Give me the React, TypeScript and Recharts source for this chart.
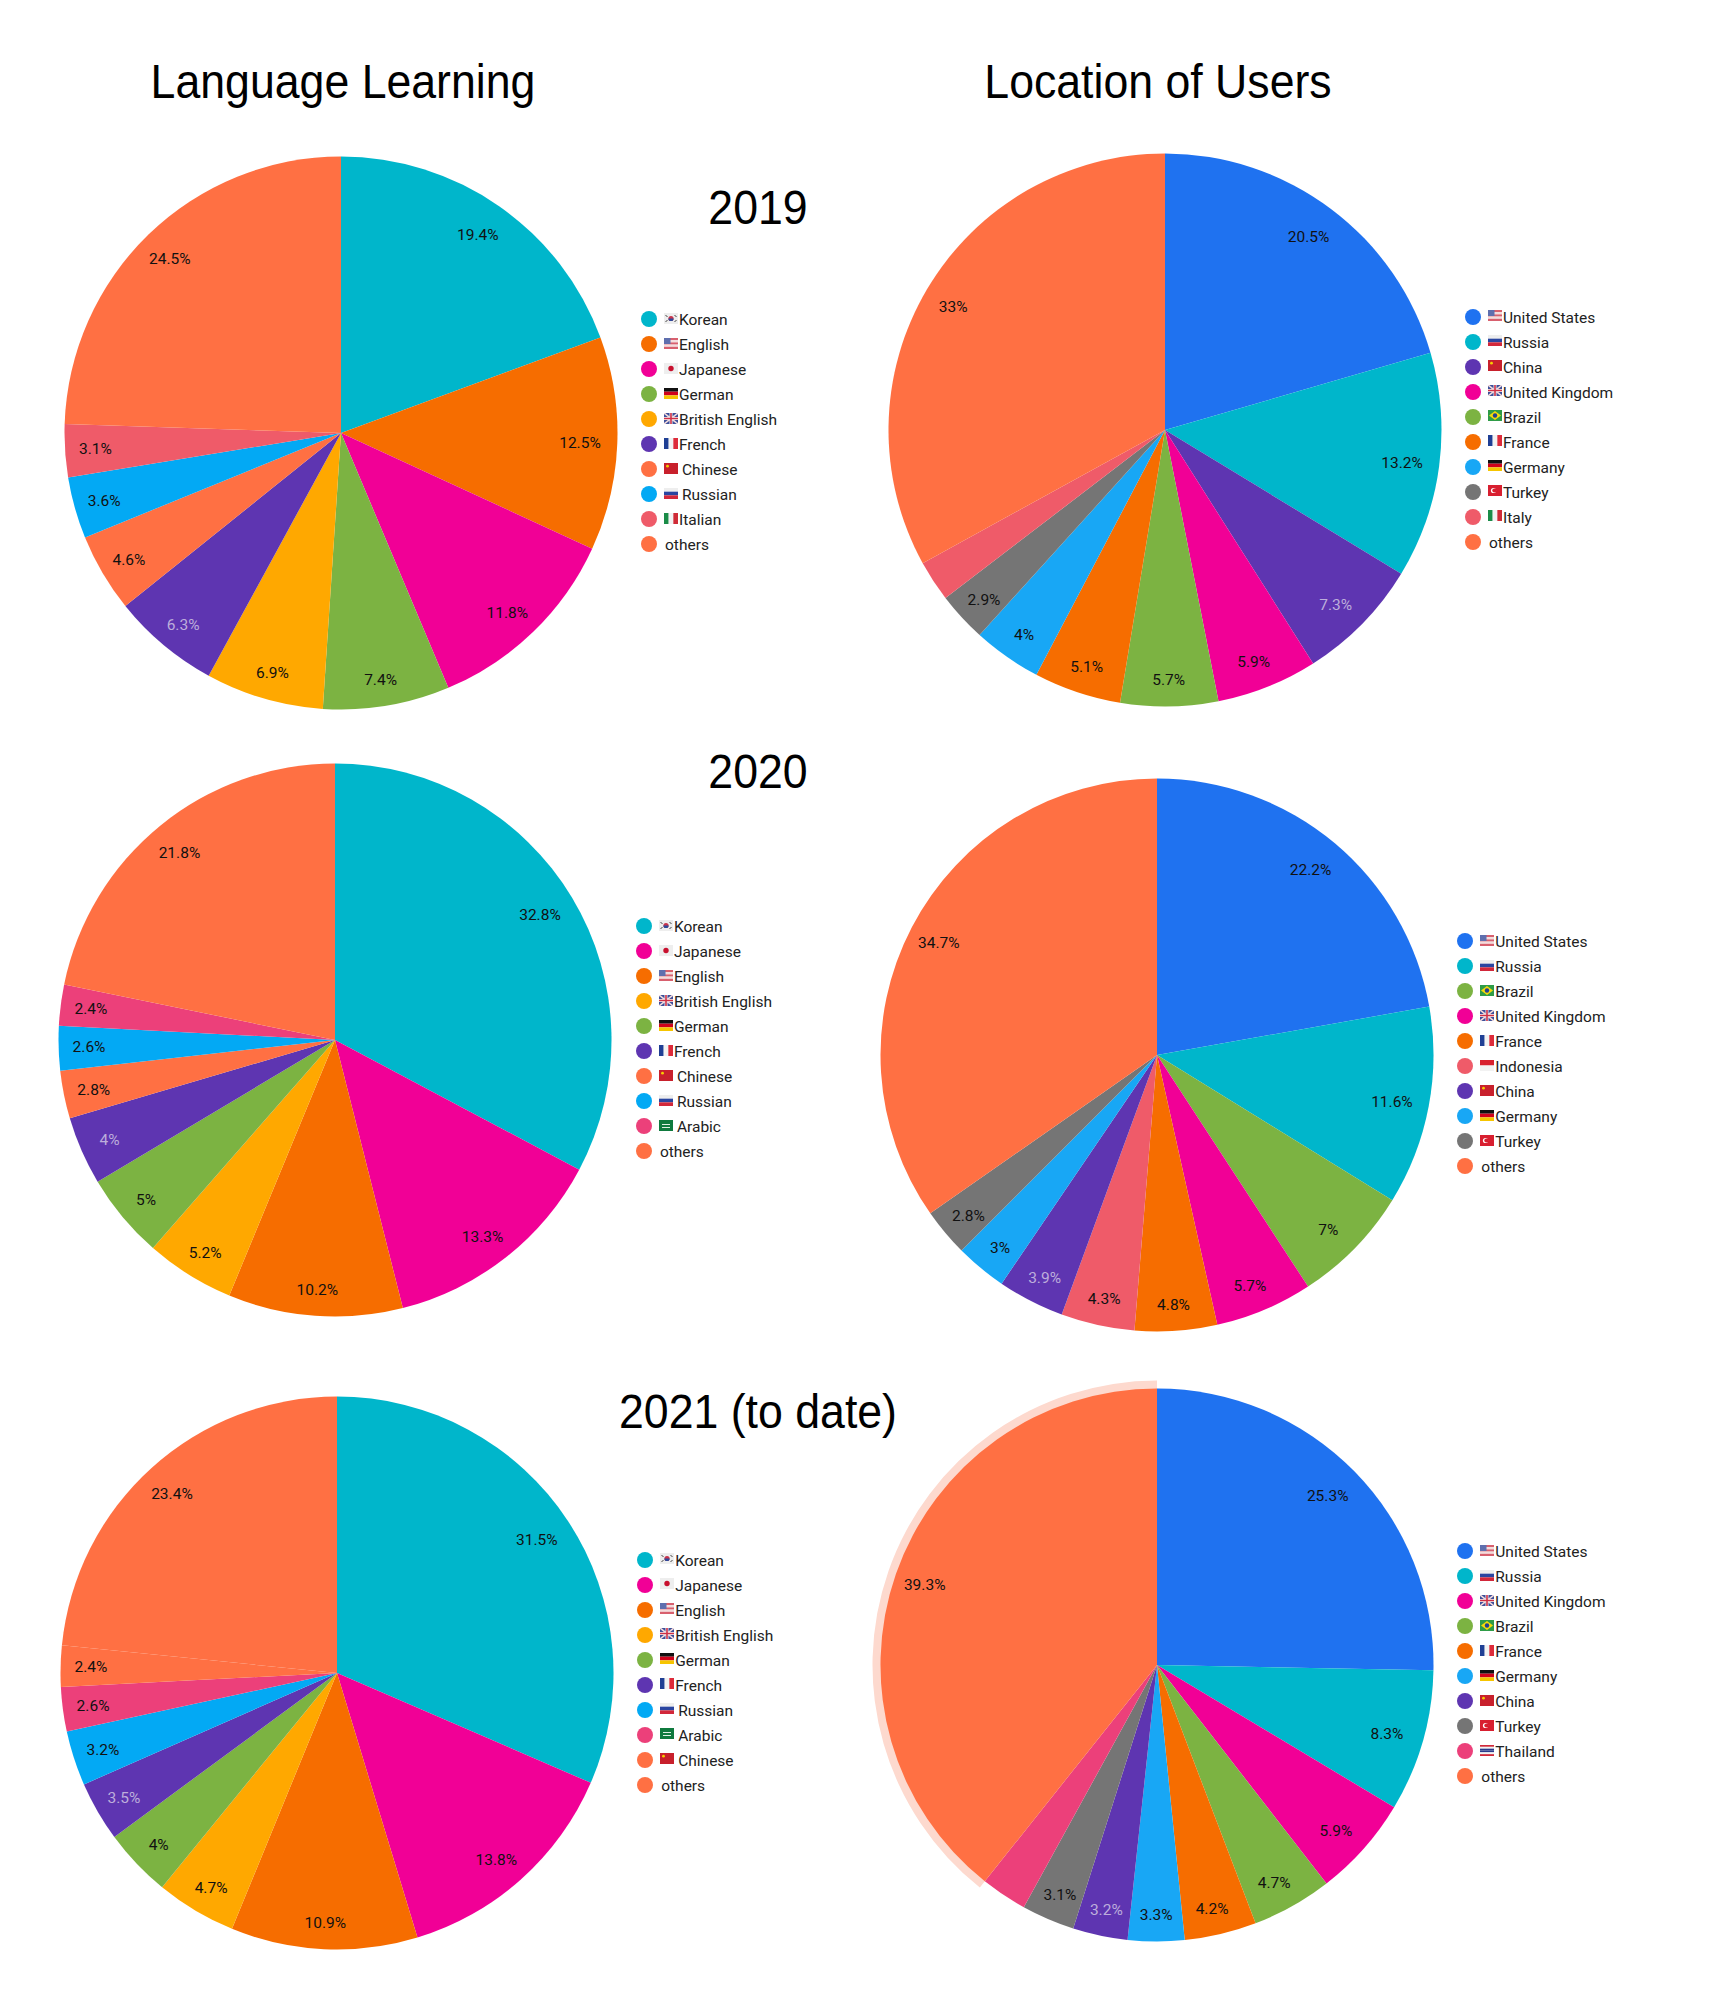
import { PieChart, Pie, Legend } from 'recharts';

const TEAL = '#00b6cb';
const ORANGE = '#f66d00';
const PINK = '#f10096';
const GREEN = '#7cb342';
const AMBER = '#ffa800';
const PURPLE = '#5e35b1';
const CORAL = '#ff7043';
const SKY = '#03a9f4';
const LIGHT_BLUE = '#18a7f5';
const RED = '#ef5b69';
const BLUE = '#1f72f0';
const GREY = '#757575';
const ROSE = '#ec407a';

// ===== Language Learning =====
const lang2019Names = ['Korean', 'English', 'Japanese', 'German', 'British English', 'French', 'Chinese', 'Russian', 'Italian', 'others'];
const lang2019Values = [19.4, 12.5, 11.8, 7.4, 6.9, 6.3, 4.6, 3.6, 3.1, 24.5];
const lang2019Colors = [TEAL, ORANGE, PINK, GREEN, AMBER, PURPLE, CORAL, SKY, RED, CORAL];

const lang2020Names = ['Korean', 'Japanese', 'English', 'British English', 'German', 'French', 'Chinese', 'Russian', 'Arabic', 'others'];
const lang2020Values = [32.8, 13.3, 10.2, 5.2, 5, 4, 2.8, 2.6, 2.4, 21.8];
const lang2020Colors = [TEAL, PINK, ORANGE, AMBER, GREEN, PURPLE, CORAL, SKY, ROSE, CORAL];

const lang2021Names = ['Korean', 'Japanese', 'English', 'British English', 'German', 'French', 'Russian', 'Arabic', 'Chinese', 'others'];
const lang2021Values = [31.5, 13.8, 10.9, 4.7, 4, 3.5, 3.2, 2.6, 2.4, 23.4];
const lang2021Colors = [TEAL, PINK, ORANGE, AMBER, GREEN, PURPLE, SKY, ROSE, CORAL, CORAL];

// ===== Location of Users =====
const loc2019Names = ['United States', 'Russia', 'China', 'United Kingdom', 'Brazil', 'France', 'Germany', 'Turkey', 'Italy', 'others'];
const loc2019Values = [20.5, 13.2, 7.3, 5.9, 5.7, 5.1, 4, 2.9, 2.4, 33];
const loc2019Colors = [BLUE, TEAL, PURPLE, PINK, GREEN, ORANGE, LIGHT_BLUE, GREY, RED, CORAL];

const loc2020Names = ['United States', 'Russia', 'Brazil', 'United Kingdom', 'France', 'Indonesia', 'China', 'Germany', 'Turkey', 'others'];
const loc2020Values = [22.2, 11.6, 7, 5.7, 4.8, 4.3, 3.9, 3, 2.8, 34.7];
const loc2020Colors = [BLUE, TEAL, GREEN, PINK, ORANGE, RED, PURPLE, LIGHT_BLUE, GREY, CORAL];

const loc2021Names = ['United States', 'Russia', 'United Kingdom', 'Brazil', 'France', 'Germany', 'China', 'Turkey', 'Thailand', 'others'];
const loc2021Values = [25.3, 8.3, 5.9, 4.7, 4.2, 3.3, 3.2, 3.1, 2.7, 39.3];
const loc2021Colors = [BLUE, TEAL, PINK, GREEN, ORANGE, LIGHT_BLUE, PURPLE, GREY, ROSE, CORAL];

const makeRows = (names: string[], values: number[], colors: string[]) =>
  names.map((name, i) => ({ name, value: values[i], fill: colors[i] }));

const RADIUS = 276.5;
const PANEL_C = 300;

// little flags instead of the emoji, there is no emoji font here
function Flag({ name }: { name: string }) {
  const stripes = (cols: string[], vertical = false) =>
    cols.map((c, i) =>
      vertical ? (
        <rect key={i} x={(i * 14) / cols.length} y={0} width={14 / cols.length} height={11} fill={c} />
      ) : (
        <rect key={i} x={0} y={(i * 11) / cols.length} width={14} height={11 / cols.length} fill={c} />
      )
    );
  let body: any = null;
  if (name === 'Korean') {
    body = (
      <>
        <rect width={14} height={11} fill="#eee" />
        <circle cx={7} cy={5.5} r={2.6} fill="#c8324a" />
        <path d="M4.4 5.5a2.6 2.6 0 0 0 5.2 0z" fill="#2b4a9b" />
        <path d="M1.5 2l2 2M10.5 2l2 2M1.5 9l2-2M10.5 9l2-2" stroke="#444" strokeWidth={1} />
      </>
    );
  } else if (name === 'English' || name === 'United States') {
    body = (
      <>
        {stripes(['#d8606e', '#f3dcdc', '#d8606e', '#f3dcdc', '#d8606e'])}
        <rect width={6.5} height={6} fill="#5f6fae" />
      </>
    );
  } else if (name === 'Japanese') {
    body = (
      <>
        <rect width={14} height={11} fill="#eee" />
        <circle cx={7} cy={5.5} r={2.7} fill="#c8102e" />
      </>
    );
  } else if (name === 'German' || name === 'Germany') {
    body = stripes(['#111', '#d0021b', '#f6c500']);
  } else if (name === 'British English' || name === 'United Kingdom') {
    body = (
      <>
        <rect width={14} height={11} fill="#3c4f9a" />
        <path d="M0 0l14 11M14 0L0 11" stroke="#f4dcdc" strokeWidth={1.6} />
        <path d="M7 0v11M0 5.5h14" stroke="#f4f4f4" strokeWidth={3} />
        <path d="M7 0v11M0 5.5h14" stroke="#cf3046" strokeWidth={1.6} />
      </>
    );
  } else if (name === 'French' || name === 'France') {
    body = stripes(['#1f3f94', '#f2f2f2', '#dd2b3a'], true);
  } else if (name === 'Chinese' || name === 'China') {
    body = (
      <>
        <rect width={14} height={11} fill="#c8202c" />
        <circle cx={3.5} cy={3.2} r={1.4} fill="#f6d000" />
      </>
    );
  } else if (name === 'Russian' || name === 'Russia') {
    body = stripes(['#eeeeee', '#2a45a0', '#d2273a']);
  } else if (name === 'Italian' || name === 'Italy') {
    body = stripes(['#1a8c48', '#f2f2f2', '#cf2b37'], true);
  } else if (name === 'Brazil') {
    body = (
      <>
        <rect width={14} height={11} fill="#2f9c47" />
        <path d="M7 1l6 4.5L7 10 1 5.500z" fill="#f5d90a" />
        <circle cx={7} cy={5.5} r={2.2} fill="#22408f" />
      </>
    );
  } else if (name === 'Turkey') {
    body = (
      <>
        <rect width={14} height={11} fill="#d81f30" />
        <circle cx={5.500} cy={5.5} r={2.6} fill="#fff" />
        <circle cx={6.4} cy={5.5} r={2.1} fill="#d81f30" />
      </>
    );
  } else if (name === 'Indonesia') {
    body = stripes(['#d8202e', '#f2f2f2']);
  } else if (name === 'Arabic') {
    body = (
      <>
        <rect width={14} height={11} fill="#0f7a3e" />
        <path d="M3 4.5h8M3 7.500h8" stroke="#dff0e4" strokeWidth={1} />
      </>
    );
  } else if (name === 'Thailand') {
    body = stripes(['#d1293a', '#f2f2f2', '#2a3a8a', '#2a3a8a', '#f2f2f2', '#d1293a']);
  }
  if (!body) return null;
  return (
    <svg width={14} height={11} viewBox="0 0 14 11" style={{ display: 'block', flex: 'none', marginTop: -2 }}>
      {body}
    </svg>
  );
}

const GAPPED = ['Chinese', 'Russian', 'Arabic'];

function renderLegend(gapped: boolean) {
  return ({ payload }: any) => (
    <div style={{ fontFamily: 'Roboto, sans-serif', fontSize: 15.5, color: '#222' }}>
      {(payload || []).map((item: any) => (
        <div key={item.value} style={{ display: 'flex', alignItems: 'center', height: 25 }}>
          <span style={{ width: 16, height: 16, borderRadius: 8, background: item.color, marginRight: 7, flex: 'none' }} />
          <Flag name={item.value} />
          <span style={{ marginLeft: gapped && GAPPED.includes(item.value) ? 4 : 1, whiteSpace: 'nowrap', position: 'relative', top: 1 }}>{item.value}</span>
        </div>
      ))}
    </div>
  );
}

function renderLabel(minLabel: number) {
  return ({ cx, cy, midAngle, outerRadius, value, payload }: any) => {
    if (value < minLabel) return null;
    const rad = (midAngle * Math.PI) / 180;
    const dx = Math.cos(rad);
    const dy = Math.sin(rad);
    const light = payload?.fill === PURPLE;
    return (
      <text
        x={cx + outerRadius * (dx < 0 ? 0.89 : 0.865) * dx}
        y={cy - outerRadius * (dy > 0 ? 0.875 : 0.905) * dy}
        textAnchor="middle"
        dominantBaseline="central"
        fontFamily="Roboto, sans-serif"
        fontSize={15.5}
        fill={light ? '#bdaedb' : '#111'}
      >
        {value}%
      </text>
    );
  };
}

function Panel({ rows, x, y, minLabel = 0, gapped = false, ring }: any) {
  const box = { position: 'absolute', left: x - PANEL_C, top: y - PANEL_C } as const;
  return (
    <>
      {ring && (
        <div style={box}>
          <PieChart width={600} height={600} margin={{ top: 0, right: 0, bottom: 0, left: 0 }}>
            <Pie
              data={rows.map((d: any) => ({ ...d, fill: d.name === ring ? '#fdd9ce' : 'transparent' }))}
              dataKey="value"
              nameKey="name"
              cx={PANEL_C}
              cy={PANEL_C}
              innerRadius={RADIUS - 1}
              outerRadius={RADIUS + 8}
              startAngle={90}
              endAngle={-270}
              stroke="none"
              isAnimationActive={false}
            />
          </PieChart>
        </div>
      )}
      <div style={box}>
        <PieChart width={830} height={600} margin={{ top: 0, right: 0, bottom: 0, left: 0 }}>
          <Pie
            data={rows}
            dataKey="value"
            nameKey="name"
            cx={PANEL_C}
            cy={PANEL_C}
            outerRadius={RADIUS}
            startAngle={90}
            endAngle={-270}
            stroke="none"
            label={renderLabel(minLabel)}
            labelLine={false}
            isAnimationActive={false}
          />
          <Legend
            layout="vertical"
            align="right"
            verticalAlign="top"
            itemSorter={null}
            content={renderLegend(gapped)}
            wrapperStyle={{ left: PANEL_C + 300.5, right: 'auto', top: PANEL_C - 126, width: 220 }}
          />
        </PieChart>
      </div>
    </>
  );
}

function Heading({ text, x, y }: { text: string; x: number; y: number }) {
  return (
    <div
      style={{
        position: 'absolute',
        left: x - 300,
        top: y - 40,
        width: 600,
        height: 80,
        lineHeight: '80px',
        textAlign: 'center',
        fontFamily: '"Liberation Sans", Arial, sans-serif',
        fontSize: 48,
        color: '#000',
        transform: 'scaleX(0.93)',
      }}
    >
      {text}
    </div>
  );
}

export default function App() {
  return (
    <div style={{ position: 'absolute', left: 0, top: 0, width: 1709, height: 2000, background: '#fff', overflow: 'hidden' }}>
      <Panel rows={makeRows(lang2019Names, lang2019Values, lang2019Colors)} x={340.5} y={432.7} gapped />
      <Panel rows={makeRows(loc2019Names, loc2019Values, loc2019Colors)} x={1164.5} y={430} minLabel={2.8} />
      <Panel rows={makeRows(lang2020Names, lang2020Values, lang2020Colors)} x={335.4} y={1039.5} gapped />
      <Panel rows={makeRows(loc2020Names, loc2020Values, loc2020Colors)} x={1156.8} y={1054.8} minLabel={2.8} />
      <Panel rows={makeRows(lang2021Names, lang2021Values, lang2021Colors)} x={336.7} y={1673.4} gapped />
      <Panel rows={makeRows(loc2021Names, loc2021Values, loc2021Colors)} x={1156.8} y={1664.5} minLabel={2.8} ring="others" />

      <Heading text="Language Learning" x={343} y={82} />
      <Heading text="Location of Users" x={1158} y={82} />
      <Heading text="2019" x={757.6} y={208} />
      <Heading text="2020" x={757.6} y={771.6} />
      <Heading text="2021 (to date)" x={757.6} y={1412} />
    </div>
  );
}
